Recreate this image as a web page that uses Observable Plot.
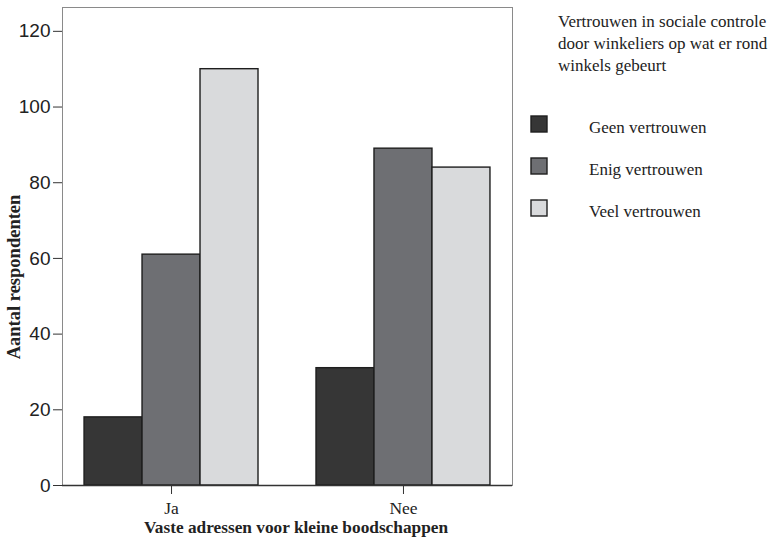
<!DOCTYPE html>
<html>
<head>
<meta charset="utf-8">
<script src="https://cdn.jsdelivr.net/npm/d3@7"></script>
<script src="https://cdn.jsdelivr.net/npm/@observablehq/plot@0.6"></script>
<style>
  html, body { margin: 0; padding: 0; background: #fff; }
  #chart { width: 773px; height: 540px; position: relative; }
</style>
</head>
<body>
<div id="chart"></div>
<script>
// ---- data ----
const groups = ["Ja", "Nee"];
const series = ["Geen vertrouwen", "Enig vertrouwen", "Veel vertrouwen"];
const valuesJa = [18, 61, 110];
const valuesNee = [31, 89, 84];
const yTicks = [0, 20, 40, 60, 80, 100, 120];
const colors = ["#363636", "#6e6f73", "#d9dadc"];
const xTitle = "Vaste adressen voor kleine boodschappen";
const yTitle = "Aantal respondenten";
const legendTitle = ["Vertrouwen in sociale controle", "door winkeliers op wat er rond", "winkels gebeurt"];

// ---- table ----
const groupValues = [valuesJa, valuesNee];
const rows = [];
groups.forEach((g, gi) => series.forEach((s, si) => rows.push({group: g, series: s, key: g + "|" + s, value: groupValues[gi][si]})));
const slots = [];
groups.forEach((g, gi) => {
  if (gi > 0) slots.push("gap" + gi);
  series.forEach(s => slots.push(g + "|" + s));
});
const tickKeys = groups.map(g => g + "|" + series[1]);

const serif = "'Liberation Serif', 'Times New Roman', serif";
const sans = "'Liberation Sans', Arial, sans-serif";

const plot = Plot.plot({
  width: 773,
  height: 540,
  marginLeft: 62,
  marginRight: 261,
  marginTop: 7,
  marginBottom: 55,
  style: {fontFamily: sans, fontSize: "18px", background: "white", color: "#222"},
  x: {type: "band", domain: slots, paddingInner: 0, paddingOuter: 0.38, align: 0.5, round: false,
      ticks: tickKeys, tickFormat: d => d.split("|")[0], tickSize: 9, tickPadding: 7, label: null},
  y: {domain: [0, 126.3], ticks: yTicks, tickSize: 9, tickPadding: 3, label: null, line: true},
  color: {domain: series, range: colors},
  marks: [
    Plot.frame({stroke: "#8a8a8a", strokeWidth: 1}),
    Plot.barY(rows, {x: "key", y: "value", fill: "series", stroke: "#1e1e1e", strokeWidth: 1.4}),
    Plot.ruleY([0], {stroke: "#333", strokeWidth: 1.3})
  ]
});

document.getElementById("chart").appendChild(plot);
const svg = d3.select(plot);

// tick label fonts
svg.selectAll('g[aria-label^="x-axis"] text').style("font-family", serif).style("font-size", "17.5px");
svg.selectAll('g[aria-label^="y-axis"] text').style("font-family", sans).style("font-size", "19px");
svg.selectAll('g[aria-label^="x-axis"] line, g[aria-label^="y-axis"] line, g[aria-label^="y-axis"] path, g[aria-label^="x-axis"] path')
   .attr("stroke", "#333");

// axis titles
svg.append("text")
  .attr("x", 296).attr("y", 533)
  .attr("text-anchor", "middle")
  .style("font-family", serif).style("font-size", "17.3px").style("font-weight", "bold").attr("fill", "#222")
  .text(xTitle);
svg.append("text")
  .attr("transform", "translate(20,277) rotate(-90)")
  .attr("text-anchor", "middle")
  .style("font-family", serif).style("font-size", "18.5px").style("font-weight", "bold").attr("fill", "#222")
  .text(yTitle);

// legend
const color = plot.scale("color");
const lg = svg.append("g").attr("text-anchor", "start")
  .style("font-family", serif).style("font-size", "17px").attr("fill", "#222");
legendTitle.forEach((t, i) => lg.append("text").attr("text-anchor", "start").attr("x", 558).attr("y", 26.5 + i * 22).text(t));
series.forEach((s, i) => {
  lg.append("rect").attr("x", 531).attr("y", 116 + i * 42).attr("width", 16).attr("height", 16)
    .attr("fill", color.apply(s)).attr("stroke", "#1e1e1e").attr("stroke-width", 1.4);
  lg.append("text").attr("text-anchor", "start").attr("x", 589).attr("y", 132.7 + i * 42).text(s);
});
</script>
</body>
</html>
